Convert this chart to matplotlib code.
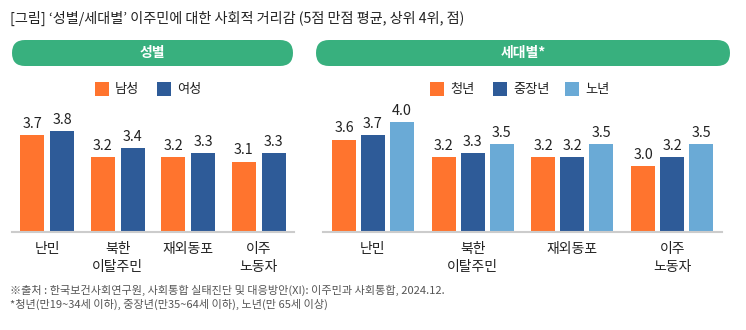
import matplotlib
matplotlib.use("Agg")
import matplotlib.pyplot as plt
from matplotlib.patches import FancyBboxPatch, Rectangle
import numpy as np

plt.rcParams['font.family'] = ['Noto Sans CJK KR', 'DejaVu Sans']

categories = ["난민", "북한\n이탈주민", "재외동포", "이주\n노동자"]
gender_names = ["남성", "여성"]
gender_values = [[3.7, 3.2, 3.2, 3.1], [3.8, 3.4, 3.3, 3.3]]
age_names = ["청년", "중장년", "노년"]
age_values = [[3.6, 3.2, 3.2, 3.0], [3.7, 3.3, 3.2, 3.2], [4.0, 3.5, 3.5, 3.5]]

title = "[그림] ‘성별/세대별’ 이주민에 대한 사회적 거리감 (5점 만점 평균, 상위 4위, 점)"
panel_titles = ["성별", "세대별*"]
notes = ["※출처 : 한국보건사회연구원, 사회통합 실태진단 및 대응방안(XI): 이주민과 사회통합, 2024.12.",
         "*청년(만19~34세 이하), 중장년(만35~64세 이하), 노년(만 65세 이상)"]

orange = "#FF742E"
dblue = "#2E5B98"
lblue = "#6AAAD6"
green = "#38B07E"
gender_colors = [orange, dblue]
age_colors = [orange, dblue, lblue]

W, H = 746, 330
fig = plt.figure(figsize=(W / 100, H / 100), dpi=100)

# overlay axes in pixel coordinates
ov = fig.add_axes([0, 0, 1, 1])
ov.set_xlim(0, W)
ov.set_ylim(H, 0)
ov.axis("off")

ov.text(10, 18, title, fontsize=10.2, color="#222222", va="center", ha="left")

pills = [(12, 293), (316, 730)]
for (x0, x1), t in zip(pills, panel_titles):
    p = FancyBboxPatch((x0, 40), x1 - x0, 26,
                       boxstyle="round,pad=0,rounding_size=13",
                       fc=green, ec="none", mutation_aspect=1)
    ov.add_patch(p)
    ov.text((x0 + x1) / 2, 53, t, color="white", fontsize=10, fontweight="bold",
            ha="center", va="center")

for i, line in enumerate(notes):
    ov.text(10, 290 + i * 14, line, fontsize=8.0, color="#555555", va="center", ha="left")


def legend(names, colors, xs, y=89):
    for n, c, x in zip(names, colors, xs):
        ov.add_patch(Rectangle((x, y - 7), 14, 14, fc=c, ec="none"))
        ov.text(x + 20, y, n, fontsize=9.5, va="center", ha="left", color="#222222")


legend(gender_names, gender_colors, [95, 157])
legend(age_names, age_colors, [430, 493, 565])


def panel(rect, names, values, colors, width, offset):
    ax = fig.add_axes(rect)
    x = np.arange(len(categories))
    n = len(names)
    for i, (nm, vals, c) in enumerate(zip(names, values, colors)):
        pos = x + (i - (n - 1) / 2) * offset
        bars = ax.bar(pos, vals, width=width, color=c, label=nm)
        ax.bar_label(bars, labels=[f"{v:.1f}" for v in vals], padding=3,
                     fontsize=10.3, color="#222222")
    ax.set_ylim(1.5, 4.5)
    ax.set_xlim(-0.5, 3.5)
    ax.set_yticks([])
    ax.set_xticks(x)
    ax.set_xticklabels(categories, fontsize=10, color="#222222", linespacing=1.35)
    ax.tick_params(axis="x", length=0, pad=7)
    for s in ["top", "right", "left"]:
        ax.spines[s].set_visible(False)
    ax.spines["bottom"].set_color("#cccccc")
    ax.spines["bottom"].set_linewidth(1.5)
    ax.patch.set_alpha(0)
    return ax


base = (H - 232) / H
hgt = 132 / H
panel([12 / W, base, 282 / W, hgt], gender_names, gender_values, gender_colors, 0.34, 0.425)
panel([323 / W, base, 399 / W, hgt], age_names, age_values, age_colors, 0.24, 0.29)

fig.savefig("out.png", dpi=100)
